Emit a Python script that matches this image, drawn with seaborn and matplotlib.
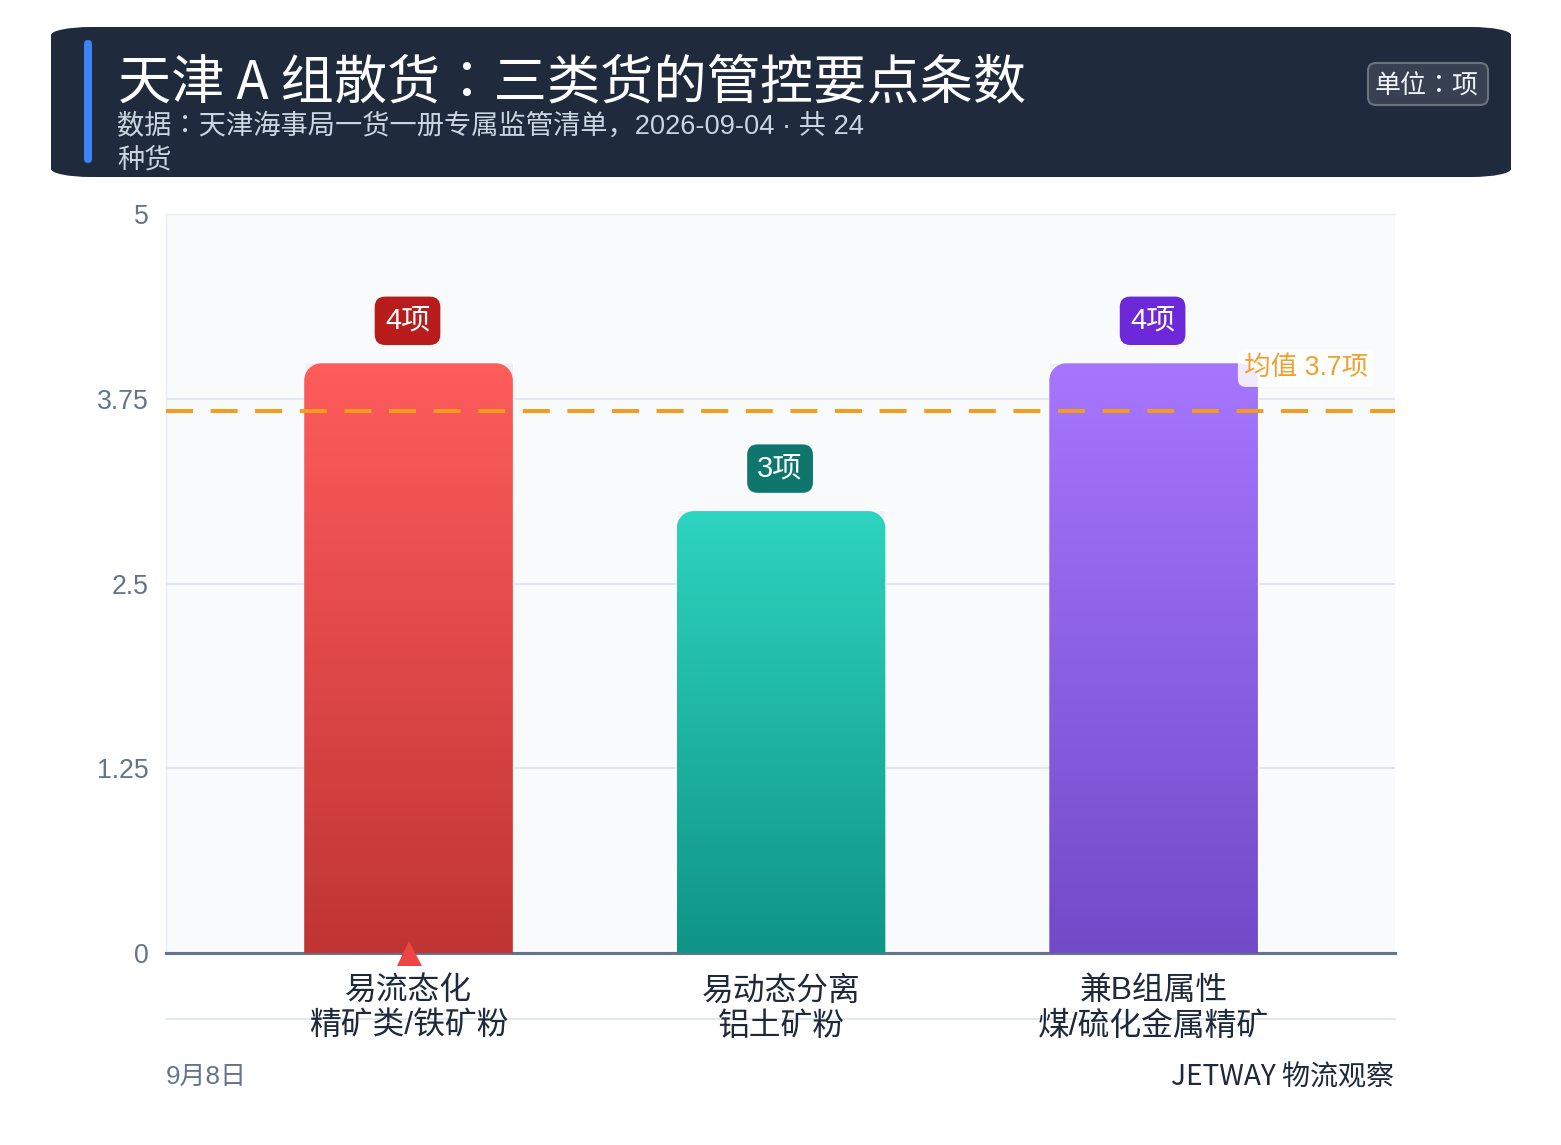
import numpy as np
import pandas as pd
import seaborn as sns
import matplotlib
matplotlib.use('Agg')
import matplotlib.pyplot as plt
from matplotlib.colors import LinearSegmentedColormap
from matplotlib.patches import PathPatch, FancyBboxPatch
from matplotlib.path import Path

# data
categories = ['易流态化\n精矿类/铁矿粉', '易动态分离\n铝土矿粉', '兼B组属性\n煤/硫化金属精矿']
counts = [4, 3, 4]
badge_labels = ['4项', '3项', '4项']
mean_label = '均值 3.7项'
yticks = [0, 1.25, 2.5, 3.75, 5]
ytick_labels = ['0', '1.25', '2.5', '3.75', '5']

top_colors = ['#ff5c5c', '#2dd4bf', '#a676ff']
bottom_colors = ['#c03434', '#0f9488', '#724ac8']
badge_colors = ['#b91c1c', '#0f766e', '#6d28d9']

title = '天津 A 组散货：三类货的管控要点条数'
subtitle = '数据：天津海事局一货一册专属监管清单，2026-09-04 · 共 24\n种货'
unit = '单位：项'
foot_left = '9月8日'
foot_right = 'JETWAY 物流观察'

W, H = 1561, 1145
px = 72 / 100  # points per pixel


def round_box(x0, y0, x1, y1, rx, ry, bottom=True):
    # box with elliptical corners, y0 is the rounded "top" side
    k = 0.45
    verts = [(x0, y1), (x0, y0 + ry), (x0, y0 + ry * k), (x0 + rx * k, y0), (x0 + rx, y0),
             (x1 - rx, y0), (x1 - rx * k, y0), (x1, y0 + ry * k), (x1, y0 + ry)]
    codes = [Path.MOVETO, Path.LINETO, Path.CURVE4, Path.CURVE4, Path.CURVE4,
             Path.LINETO, Path.CURVE4, Path.CURVE4, Path.CURVE4]
    if bottom:
        verts[0] = (x0, y1 - ry)
        verts += [(x1, y1 - ry), (x1, y1 - ry * k), (x1 - rx * k, y1), (x1 - rx, y1),
                  (x0 + rx, y1), (x0 + rx * k, y1), (x0, y1 - ry * k), (x0, y1 - ry)]
        codes += [Path.LINETO, Path.CURVE4, Path.CURVE4, Path.CURVE4,
                  Path.LINETO, Path.CURVE4, Path.CURVE4, Path.CURVE4]
    else:
        verts += [(x1, y1), (x0, y1)]
        codes += [Path.LINETO, Path.LINETO]
    return Path(verts, codes)


sns.set_theme(style='white')
plt.rcParams['font.family'] = ['Liberation Sans', 'Noto Sans CJK SC', 'DejaVu Sans']
head_font = ['Noto Sans CJK TC', 'DejaVu Sans']
sub_font = ['Liberation Sans', 'Noto Sans CJK JP', 'DejaVu Sans']
foot_font = ['Noto Sans CJK SC', 'DejaVu Sans']

df = pd.DataFrame({'category': categories, 'count': counts})

fig = plt.figure(figsize=(W / 100, H / 100), dpi=100, facecolor='white')
ax = fig.add_axes([166 / W, 1 - 953 / H, (1395 - 166) / W, (953 - 214) / H])
ax.set_facecolor('#f8fafc')

sns.barplot(data=df, x='category', y='count', color='#eef0f6', saturation=1, width=0.56, ax=ax, zorder=2)
ax.set(xlim=(-0.651, 2.648), ylim=(0, 5), xlabel='', ylabel='')
ax.set_yticks(yticks, ytick_labels)
ax.grid(axis='y', color='#e2e8f0', lw=1.5)
ax.set_axisbelow(True)
ax.tick_params(axis='y', length=0, pad=12.3, labelsize=19.2, labelcolor='#64748b')
ax.tick_params(axis='x', length=0, pad=16.7, labelsize=22.9, labelcolor='#1e293b')
for lab in ax.get_xticklabels():
    lab.set_linespacing(1.22)
    lab.set_zorder(5)

for s in ['top', 'left']:
    ax.spines[s].set_color('#e8ecf1')
    ax.spines[s].set_linewidth(1)
ax.spines['right'].set_visible(False)
ax.spines['bottom'].set_color('#64748b')
ax.spines['bottom'].set_linewidth(2.2)

# gradient fill clipped to a rounded top, on top of the bars seaborn drew
x_per_px = 1 / 372.5
y_per_px = 5 / 739
for i, bar in enumerate(ax.patches):
    x0, x1 = bar.get_x(), bar.get_x() + bar.get_width()
    top = bar.get_height() - 1.5 * y_per_px
    cmap = LinearSegmentedColormap.from_list('g%d' % i, [top_colors[i], bottom_colors[i]])
    im = ax.imshow(np.linspace(0, 1, 256).reshape(-1, 1), cmap=cmap, extent=(x0, x1, 0, top),
                   aspect='auto', zorder=3, origin='upper')
    clip = PathPatch(round_box(x0, top, x1, 0, 17 * x_per_px, -17 * y_per_px, bottom=False),
                     transform=ax.transData, fc='none', ec='none')
    ax.add_patch(clip)
    im.set_clip_path(clip)
    ax.annotate(badge_labels[i], xy=(i, counts[i]), xytext=(-1, 41), textcoords='offset pixels',
                ha='center', va='center', color='white', fontsize=21, zorder=6,
                bbox=dict(boxstyle='round,pad=0.35,rounding_size=0.36', fc=badge_colors[i], ec='none'))
ax.set_xlim(-0.651, 2.648)
ax.set_ylim(0, 5)

# mean line
mean_value = np.mean(counts)
ax.axhline(mean_value, color='#f39c1f', lw=4 * px, ls=(0, (6.75, 4.4)), zorder=4, dash_capstyle='butt')
ax.annotate(mean_label, xy=(2.648, mean_value), xytext=(-27, 43), textcoords='offset pixels',
            ha='right', va='center', color='#f0a030', fontsize=19.2, zorder=6,
            bbox=dict(boxstyle='round,pad=0.22,rounding_size=0.3', fc='white', ec='none', alpha=0.85))

# marker under the first category
ax.plot([0], [0], marker='^', ms=18, color='#ef4444', mew=0, clip_on=False, zorder=7)

# overlay in pixel coordinates for the header and footer
ov = fig.add_axes([0, 0, 1, 1], zorder=-1)
ov.set(xlim=(0, W), ylim=(H, 0))
ov.axis('off')
ov.patch.set_alpha(0)
ov.add_patch(PathPatch(round_box(51, 27, 1511, 177, 40, 8), fc='#1f2a3c', ec='none'))
ov.add_patch(FancyBboxPatch((84, 40), 8, 123, boxstyle='round,pad=0,rounding_size=4', fc='#3b82f6', ec='none'))
ov.add_patch(FancyBboxPatch((1368, 63), 120, 42, boxstyle='round,pad=0,rounding_size=8', fc='#374151',
                            ec='#6b7280', lw=1.5))
ov.text(118, 83, title, color='white', fontsize=38.3, va='center', ha='left', family=head_font)
ov.text(117, 143, subtitle, color='#cbd5e1', fontsize=19.6, va='center', ha='left', linespacing=1.38,
        family=sub_font)
ov.text(1427, 86, unit, color='#f1f5f9', fontsize=18.7, va='center', ha='center', family=head_font)
ov.plot([166, 1395], [1019, 1019], color='#e2e8f0', lw=1.5)
ov.text(166, 1077, foot_left, color='#64748b', fontsize=18.7, va='center', ha='left')
ov.text(1394, 1077, foot_right, color='#1e293b', fontsize=20.2, va='center', ha='right', family=foot_font)

fig.savefig('out.png', dpi=100)
